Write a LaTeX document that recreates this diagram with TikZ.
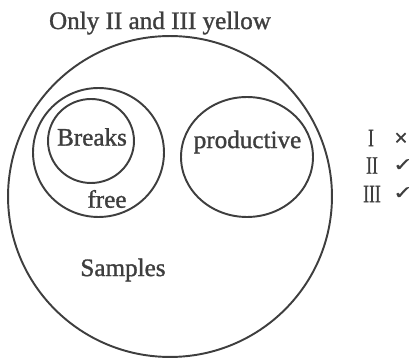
\documentclass[tikz,border=0pt]{standalone}
\usepackage{fontspec}
\setmainfont{Liberation Serif}[BoldFont={Liberation Serif},BoldFeatures={FakeBold=1.2}]
\newfontfamily\symfont{DejaVu Sans}[BoldFont={DejaVu Sans},BoldFeatures={FakeBold=1}]
\usepackage{xcolor}
\usetikzlibrary{shapes.geometric}
\definecolor{inkgray}{RGB}{62,62,62}

\begin{document}
\begin{tikzpicture}[x=0.02cm,y=-0.02cm]
\useasboundingbox (0,0) rectangle (413,358);
\begin{scope}[every node/.style={ellipse,draw=inkgray,line width=1.1pt,inner sep=0pt}]
    \node[minimum width=6.48cm,minimum height=6.42cm] (samples) at (170,196.5) {};
    \node[minimum width=2.62cm,minimum height=2.58cm] (free) at (98.5,152.5) {};
    \node[minimum width=1.72cm,minimum height=1.68cm] (breaks) at (91,141) {};
    \node[minimum width=2.64cm,minimum height=2.40cm] (productive) at (247,157) {};
\end{scope}
\begin{scope}[every node/.style={inner sep=0pt,text=inkgray,font=\bfseries\fontsize{14.3}{17}\selectfont}]
    \node (title) at (160,23) {Only II and III yellow};
    \node (breakslabel) at (92,137) {Breaks};
    \node (freelabel) at (107,199) {free};
    \node (productivelabel) at (247.5,142) {productive};
    \node (sampleslabel) at (123,270) {Samples};
    \node (one) at (371,138) {\scalebox{0.7}[1]{I}};
    \node (two) at (372,165.5) {\scalebox{0.7}[1]{II}};
    \node (three) at (372,194) {\scalebox{0.7}[1]{III}};
\end{scope}
\begin{scope}[every node/.style={inner sep=0pt,text=inkgray,font=\symfont\bfseries\fontsize{10}{12}\selectfont}]
    \node (no) at (401,138) {×};
    \node (yestwo) at (403,165) {\scalebox{1.35}[1.05]{✓}};
    \node (yesthree) at (403,193) {\scalebox{1.35}[1.05]{✓}};
\end{scope}
\end{tikzpicture}
\end{document}
